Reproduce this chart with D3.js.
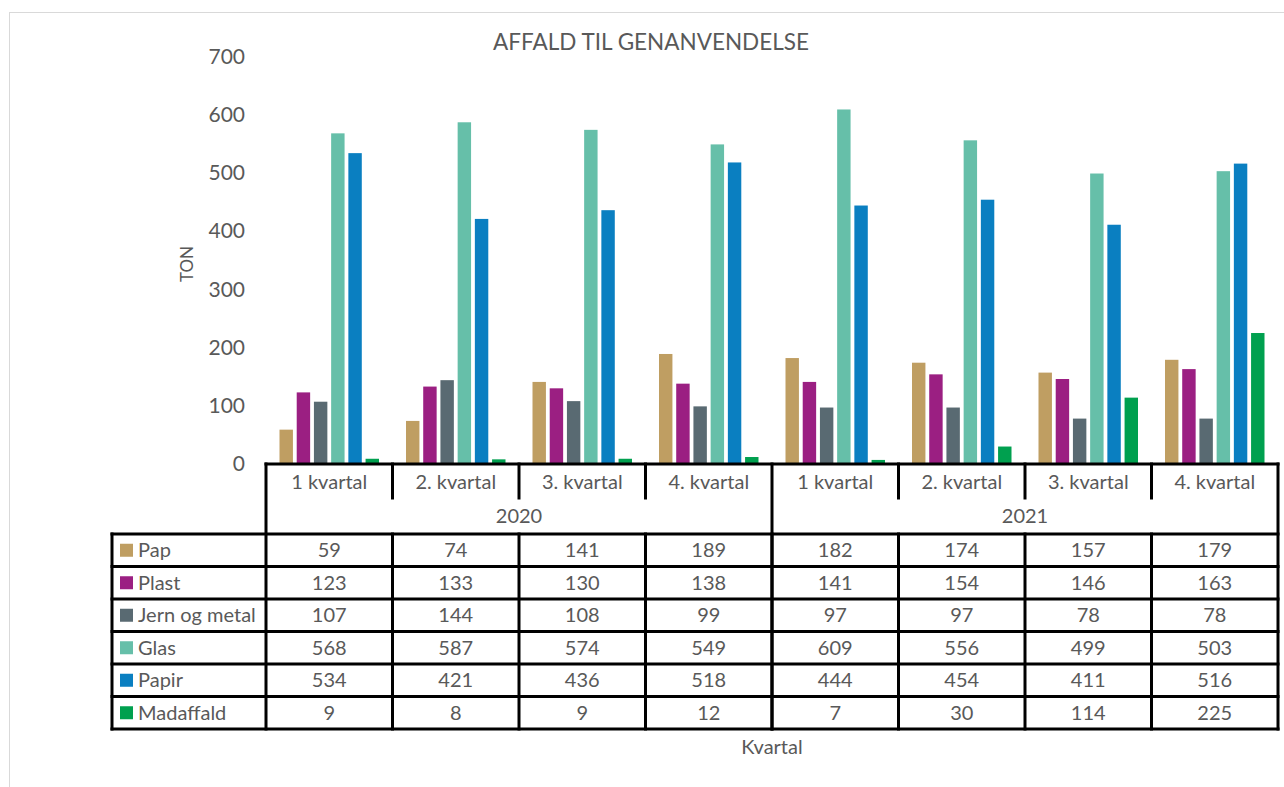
<!DOCTYPE html>
<html>
<head>
<meta charset="utf-8">
<script src="https://cdn.jsdelivr.net/npm/d3@7"></script>
<style>
  body { margin: 0; background: #fff; }
  text { font-family: Lato, 'Open Sans', sans-serif; fill: #595959; }
</style>
</head>
<body>
<script>
// quarters along the x axis, grouped by year
var quarters = ['1 kvartal', '2. kvartal', '3. kvartal', '4. kvartal',
  '1 kvartal', '2. kvartal', '3. kvartal', '4. kvartal']
var years = ['2020', '2021']

var seriesNames = ['Pap', 'Plast', 'Jern og metal', 'Glas', 'Papir', 'Madaffald']
var colors = ['#bf9e62', '#9b1f82', '#596a72', '#66bfa9', '#0a7fc1', '#00a04f']

var pap = [59, 74, 141, 189, 182, 174, 157, 179]
var plast = [123, 133, 130, 138, 141, 154, 146, 163]
var jern = [107, 144, 108, 99, 97, 97, 78, 78]
var glas = [568, 587, 574, 549, 609, 556, 499, 503]
var papir = [534, 421, 436, 518, 444, 454, 411, 516]
var madaffald = [9, 8, 9, 12, 7, 30, 114, 225]
var values = [pap, plast, jern, glas, papir, madaffald]

var yTicks = [0, 100, 200, 300, 400, 500, 600, 700]

var width = 1284
var height = 787

var svg = d3.select('body').append('svg')
  .attr('width', width)
  .attr('height', height)

// light chart frame
svg.append('rect')
  .attr('x', 9.5).attr('y', 12.5)
  .attr('width', 1300).attr('height', 800)
  .attr('fill', 'none')
  .attr('stroke', '#d9d9d9')

var x = d3.scaleBand()
  .domain(d3.range(quarters.length))
  .range([266, 1278])

var xs = d3.scaleBand()
  .domain(d3.range(seriesNames.length))
  .range([13.5, x.bandwidth() - 13.5])
  .paddingInner(0.22)

var y = d3.scaleLinear()
  .domain([0, 700])
  .range([464, 56.5])

// title
svg.append('text')
  .attr('x', 651).attr('y', 42)
  .attr('dy', '0.35em')
  .attr('text-anchor', 'middle')
  .style('font-size', '22.5px')
  .text('AFFALD TIL GENANVENDELSE')

// y axis
var yAxis = svg.append('g')
  .attr('transform', 'translate(245,0)')
  .call(d3.axisLeft(y).tickValues(yTicks).tickSize(0).tickPadding(0))
yAxis.select('.domain').remove()
yAxis.selectAll('text')
  .style('font-size', '21px')
  .style('font-family', 'Lato, sans-serif')
  .attr('fill', '#595959')

svg.append('text')
  .attr('transform', 'translate(187,264) rotate(-90)')
  .attr('dy', '0.35em')
  .attr('text-anchor', 'middle')
  .style('font-size', '17px')
  .text('TON')

// bars
var groups = svg.selectAll('g.series')
  .data(values)
  .enter().append('g')
  .attr('class', 'series')
  .attr('fill', function (d, i) { return colors[i] })

groups.each(function (vals, si) {
  d3.select(this).selectAll('rect')
    .data(vals)
    .enter().append('rect')
    .attr('x', function (d, i) { return x(i) + xs(si) })
    .attr('y', function (d) { return y(d) })
    .attr('width', xs.bandwidth())
    .attr('height', function (d) { return y(0) - y(d) })
})

// ---- data table ----
var rowTop = 534
var rowH = 32.5
var headTop = 464
var headMid = 498
var left = 112
var right = 1278
var lineW = 3
var cellFont = '20px'

function line (x1, y1, x2, y2) {
  svg.append('line')
    .attr('x1', x1).attr('y1', y1).attr('x2', x2).attr('y2', y2)
    .attr('stroke', '#000')
    .attr('stroke-width', lineW)
    .attr('stroke-linecap', 'square')
}

// quarter labels
svg.selectAll('text.q')
  .data(quarters)
  .enter().append('text')
  .attr('class', 'q')
  .attr('x', function (d, i) { return x(i) + x.bandwidth() / 2 })
  .attr('y', (headTop + headMid) / 2 + 1)
  .attr('dy', '0.35em')
  .attr('text-anchor', 'middle')
  .style('font-size', cellFont)
  .text(function (d) { return d })

// year labels
svg.selectAll('text.yr')
  .data(years)
  .enter().append('text')
  .attr('class', 'yr')
  .attr('x', function (d, i) { return x(i * 4) + x.bandwidth() * 2 })
  .attr('y', (headMid + rowTop) / 2)
  .attr('dy', '0.35em')
  .attr('text-anchor', 'middle')
  .style('font-size', cellFont)
  .text(function (d) { return d })

// series rows
seriesNames.forEach(function (name, si) {
  var cy = rowTop + rowH * si + rowH / 2
  svg.append('rect')
    .attr('x', 120).attr('y', cy - 6.5)
    .attr('width', 13).attr('height', 13)
    .attr('fill', colors[si])
  svg.append('text')
    .attr('x', 138).attr('y', cy)
    .attr('dy', '0.35em')
    .style('font-size', cellFont)
    .text(name)
  values[si].forEach(function (v, i) {
    svg.append('text')
      .attr('x', x(i) + x.bandwidth() / 2)
      .attr('y', cy)
      .attr('dy', '0.35em')
      .attr('text-anchor', 'middle')
      .style('font-size', cellFont)
      .text(v)
  })
})

// grid lines of the table
var tableBottom = rowTop + rowH * seriesNames.length
line(266, headTop, right, headTop)
line(266, headTop, 266, tableBottom)
line(right, headTop, right, tableBottom)
for (var r = 0; r <= seriesNames.length; r++) {
  line(left, rowTop + rowH * r, right, rowTop + rowH * r)
}
line(left, rowTop, left, tableBottom)
for (var c = 1; c < quarters.length; c++) {
  // quarter separators only cross the first header row, the year split crosses both
  line(x(c), headTop, x(c), c === 4 ? tableBottom : headMid)
  line(x(c), rowTop, x(c), tableBottom)
}

// x axis title
svg.append('text')
  .attr('x', 772).attr('y', 747)
  .attr('dy', '0.35em')
  .attr('text-anchor', 'middle')
  .style('font-size', '20px')
  .text('Kvartal')
</script>
</body>
</html>
